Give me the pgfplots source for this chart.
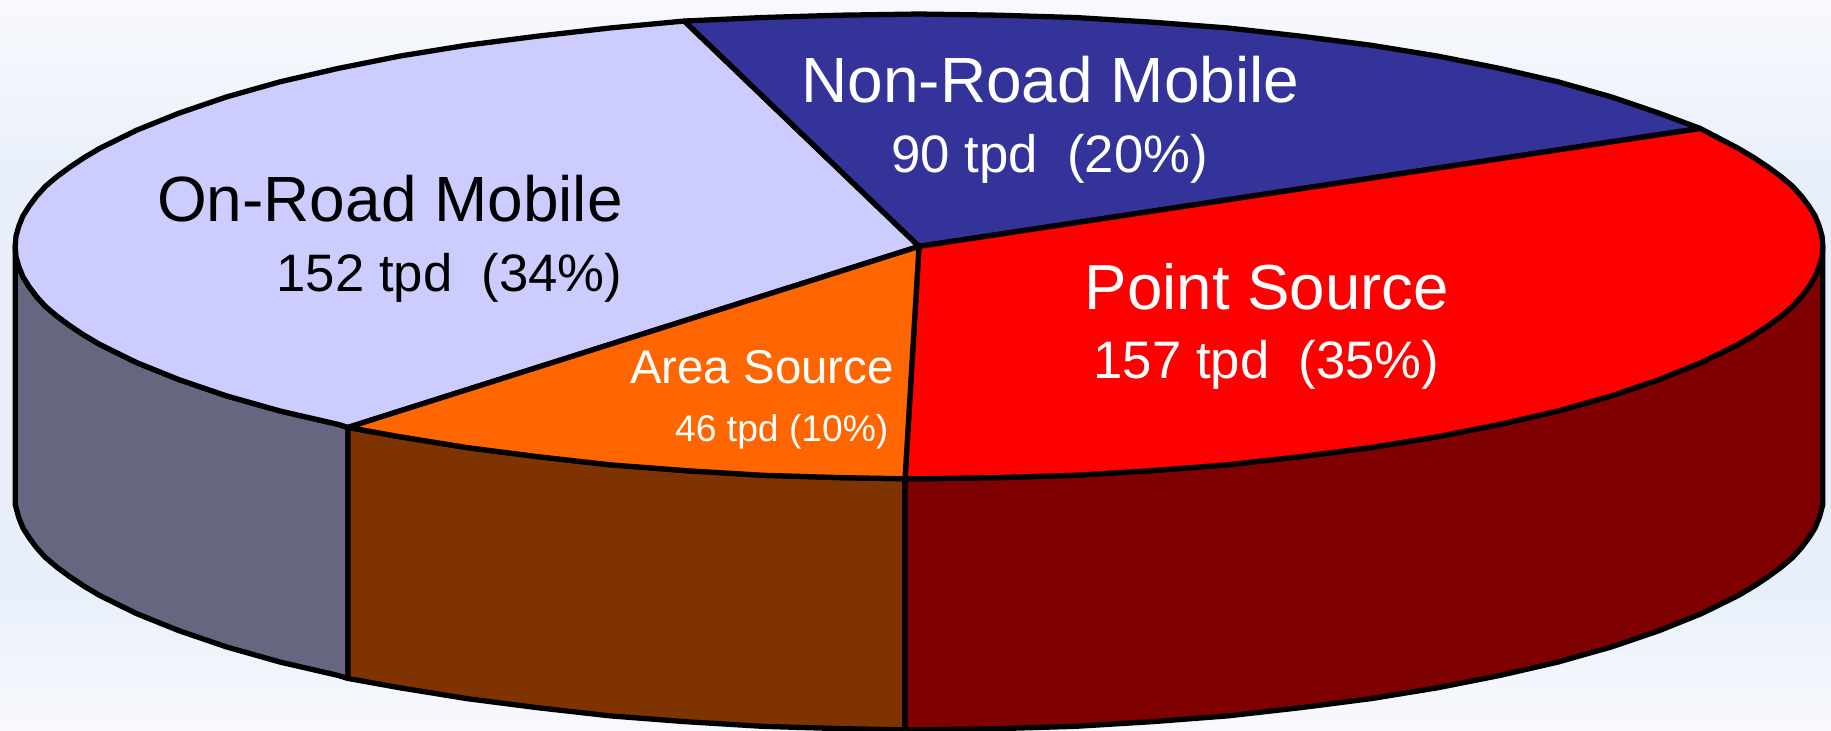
\documentclass[border=0pt]{standalone}
\usepackage{fontspec}
\setmainfont{Liberation Sans}
\usepackage{pgfplots}
\pgfplotsset{compat=1.18}
\definecolor{sideg}{HTML}{666680}
\definecolor{sideb}{HTML}{7F3300}
\definecolor{sider}{HTML}{7F0000}
\definecolor{topl}{HTML}{CCCCFF}
\definecolor{topn}{HTML}{333399}
\definecolor{topr}{HTML}{FF0000}
\definecolor{topo}{HTML}{FF6600}
\definecolor{skya}{HTML}{F8F9FD}
\definecolor{skyb}{HTML}{E8EFFA}
\begin{document}
\begin{tikzpicture}
\begin{axis}[
  hide axis, scale only axis, width=18.31cm, height=7.31cm,
  xmin=0, xmax=1568, ymin=0, ymax=626, y dir=reverse,
  every axis plot/.append style={draw=black, line width=1.5pt, line join=round},
]
\path[top color=skya, bottom color=skyb, draw=none] (axis cs:0,0) rectangle (axis cs:1568,160);
\path[fill=skyb, draw=none] (axis cs:0,160) rectangle (axis cs:1568,500);
\path[top color=skyb, bottom color=skya, draw=none] (axis cs:0,500) rectangle (axis cs:1568,626);
% side walls
\addplot[fill=sideg] coordinates {(13,211)(13.7,219.7)(16,228)(19.6,237)(25,245.6)(31.3,254)(39,262.5)(48.8,270.8)(60,279)(72,287)(85.5,295)(117,310.5)(153,325)(194,339)(240,352)(289.5,363.4)(298,366)(298,581)(289.5,578.4)(240,567)(194,554)(153,540)(117,525.5)(85.5,510)(72,502)(60,494)(48.8,485.8)(39,477.5)(31.3,469)(25,460.6)(19.6,452)(16,443)(13,432)} -- cycle;
\addplot[fill=sideb] coordinates {(298,366)(342.5,374)(400,383.3)(460,391)(522,398)(587,403)(653,407)(720,409)(775,410)(775,625)(720,624)(653,622)(587,618)(522,613)(460,606)(400,598.3)(342.5,589)(298,581)} -- cycle;
\addplot[fill=sider] coordinates {(775,410)(787,410)(854.5,409)(921,407)(987,403)(1052,398)(1114,391)(1174,383.3)(1231,374)(1284.5,363.4)(1334,352)(1380,339)(1421,325)(1457,310.5)(1488.5,295)(1502,287)(1514,279)(1525.2,270.8)(1535,262.5)(1542.7,254)(1549,245.6)(1554.4,237)(1558,228)(1560.3,219.7)(1561,211)(1561,432)(1558,443)(1554.4,452)(1549,460.6)(1542.7,469)(1535,477.5)(1525.2,485.8)(1514,494)(1502,502)(1488.5,510)(1457,525.5)(1421,540)(1380,554)(1334,567)(1284.5,578.4)(1231,589)(1174,598.3)(1114,606)(1052,613)(987,618)(921,622)(854.5,624)(787,625)(775,625)} -- cycle;
% top slices
\addplot[fill=topl] coordinates {(787,211)(298,366)(289.5,363.4)(240,352)(194,339)(153,325)(117,310.5)(85.5,295)(72,287)(60,279)(48.8,270.8)(39,262.5)(31.3,254)(25,245.6)(19.6,237)(16,228)(13.7,219.7)(13,211)(13.7,202.3)(16,194)(19.6,185)(25,176.4)(31.3,168)(39,159.5)(48.8,151.2)(60,143)(72,135)(85.5,127)(117,111.5)(153,97)(194,83)(240,70)(289.5,58.6)(342.5,48)(400,38.7)(460,31)(522,24)(586,18)} -- cycle;
\addplot[fill=topn] coordinates {(787,211)(586,18)(653,15)(719.5,13)(787,12)(854.5,13)(921,15)(987,19)(1052,24)(1114,31)(1174,38.7)(1231,48)(1284.5,58.6)(1334,70)(1380,83)(1421,97)(1456,110)} -- cycle;
\addplot[fill=topr] coordinates {(787,211)(1456,110)(1488.5,127)(1502,135)(1514,143)(1525.2,151.2)(1535,159.5)(1542.7,168)(1549,176.4)(1554.4,185)(1558,194)(1560.3,202.3)(1561,211)(1560.3,219.7)(1558,228)(1554.4,237)(1549,245.6)(1542.7,254)(1535,262.5)(1525.2,270.8)(1514,279)(1502,287)(1488.5,295)(1457,310.5)(1421,325)(1380,339)(1334,352)(1284.5,363.4)(1231,374)(1174,383.3)(1114,391)(1052,398)(987,403)(921,407)(854.5,409)(787,410)(775,410)} -- cycle;
\addplot[fill=topo] coordinates {(787,211)(775,410)(720,409)(653,407)(587,403)(522,398)(460,391)(400,383.3)(342.5,374)(298,366)} -- cycle;
% labels
\node[anchor=base, text=black, font=\fontsize{18.2}{20}\selectfont] at (axis cs:334,190) {On-Road Mobile};
\node[anchor=base, text=black, font=\fontsize{15}{18}\selectfont] at (axis cs:385,250) {152 tpd\ \ (34\%)};
\node[anchor=base, text=white, font=\fontsize{18.2}{20}\selectfont] at (axis cs:899.5,88) {Non-Road Mobile};
\node[anchor=base, text=white, font=\fontsize{15}{18}\selectfont] at (axis cs:899,148) {90 tpd\ \ (20\%)};
\node[anchor=base, text=white, font=\fontsize{18.1}{20}\selectfont] at (axis cs:1085,265) {Point Source};
\node[anchor=base, text=white, font=\fontsize{15}{18}\selectfont] at (axis cs:1084.5,324) {157 tpd\ \ (35\%)};
\node[anchor=base, text=white, font=\fontsize{13.5}{16}\selectfont] at (axis cs:652.5,328) {Area Source};
\node[anchor=base, text=white, font=\fontsize{10.6}{13}\selectfont] at (axis cs:669.5,378) {46 tpd (10\%)};
\end{axis}
\end{tikzpicture}
\end{document}
